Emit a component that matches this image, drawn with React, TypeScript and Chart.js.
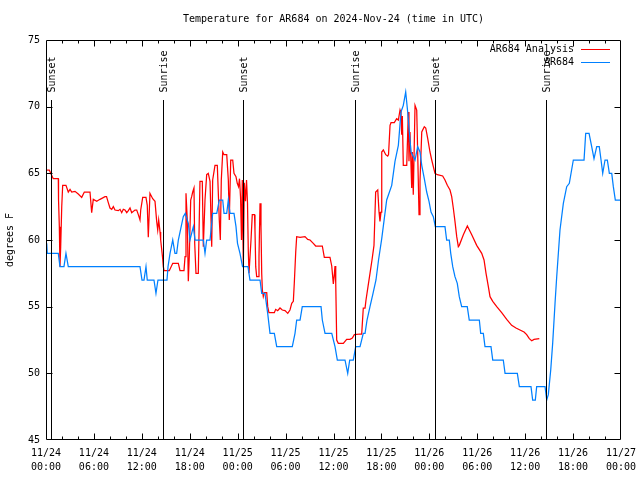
import React, { useEffect, useRef } from "react";
import { Chart, registerables } from "chart.js";

Chart.register(...registerables);

const MONO = "'DejaVu Sans Mono', 'Liberation Mono', monospace";

const TITLE = "Temperature for AR684 on 2024-Nov-24 (time in UTC)";
const Y_TITLE = "degrees F";
const X_TICK_DATES = ["11/24", "11/24", "11/24", "11/24", "11/25", "11/25", "11/25", "11/25", "11/26", "11/26", "11/26", "11/26", "11/27"];
const X_TICK_TIMES = ["00:00", "06:00", "12:00", "18:00", "00:00", "06:00", "12:00", "18:00", "00:00", "06:00", "12:00", "18:00", "00:00"];
const X_MIN = 0;
const X_MAX = 72;
const Y_MIN = 45;
const Y_MAX = 75;

const SERIES_LABELS = ["AR684 Analysis", "AR684"];
const SERIES_COLORS = ["#ff0000", "#0080ff"];

// hours since 11/24 00:00 UTC
const analysisHours = [0.09, 0.41, 0.59, 0.91, 1.54, 1.57, 1.67, 1.75, 1.84, 1.97, 2.09, 2.5, 2.79, 3.01, 3.22, 3.63, 4.04, 4.47, 4.8, 5.51, 5.72, 5.92, 6.35, 6.76, 7.39, 7.58, 7.8, 8.01, 8.23, 8.43, 8.64, 9.05, 9.27, 9.48, 9.68, 9.89, 10.11, 10.31, 10.52, 10.73, 11.14, 11.36, 11.56, 11.77, 11.86, 12.11, 12.52, 12.68, 12.81, 13.02, 13.36, 13.65, 13.86, 13.99, 14.11, 14.28, 14.36, 14.61, 14.69, 14.78, 15.44, 15.87, 16.57, 16.78, 17.28, 17.41, 17.53, 17.69, 17.82, 17.94, 18.12, 18.24, 18.37, 18.53, 18.62, 18.78, 19.07, 19.28, 19.57, 19.7, 19.91, 20.12, 20.32, 20.54, 20.75, 20.87, 21.16, 21.45, 21.7, 21.83, 21.95, 22.13, 22.29, 22.63, 22.83, 22.95, 23.13, 23.38, 23.54, 23.79, 23.95, 24.11, 24.23, 24.36, 24.48, 24.58, 24.71, 24.83, 24.98, 25.11, 25.23, 25.33, 25.42, 25.67, 25.83, 26.11, 26.17, 26.26, 26.38, 26.61, 26.67, 26.8, 26.92, 27.01, 27.09, 27.21, 27.34, 27.64, 27.76, 27.92, 28.59, 28.76, 29.01, 29.3, 29.59, 29.93, 30.27, 30.55, 30.77, 30.97, 31.09, 31.27, 31.39, 31.81, 32.43, 32.77, 33.06, 33.47, 33.77, 34.6, 34.85, 35.56, 35.78, 35.98, 36.1, 36.19, 36.28, 36.4, 36.6, 37.23, 37.65, 38.07, 38.36, 38.61, 39.32, 39.53, 39.73, 39.95, 40.07, 40.32, 40.57, 40.82, 41.07, 41.28, 41.54, 41.7, 41.82, 41.95, 42.04, 42.24, 42.54, 42.79, 42.89, 43.08, 43.2, 43.61, 43.91, 44.12, 44.33, 44.45, 44.54, 44.62, 44.74, 45.17, 45.37, 45.45, 45.58, 45.79, 45.87, 45.99, 46.21, 46.42, 46.54, 46.71, 46.83, 47.05, 47.37, 47.55, 47.8, 48.08, 48.3, 48.5, 48.71, 49.0, 49.67, 49.96, 50.25, 50.59, 50.8, 51.0, 51.21, 51.43, 51.63, 51.75, 52.26, 52.76, 53.31, 53.93, 54.56, 54.85, 55.1, 55.39, 55.6, 55.94, 56.44, 57.06, 57.69, 58.31, 58.85, 59.35, 59.86, 60.19, 60.52, 60.82, 61.11, 61.77];
const analysisTemps = [65.25, 65.25, 65.0, 64.6, 64.6, 63.0, 61.0, 58.0, 59.5, 62.5, 64.1, 64.1, 63.6, 63.8, 63.6, 63.65, 63.45, 63.2, 63.6, 63.6, 62.05, 63.05, 62.9, 63.05, 63.25, 63.25, 62.8, 62.4, 62.3, 62.5, 62.25, 62.2, 62.3, 62.05, 62.3, 62.25, 62.05, 62.2, 62.4, 62.05, 62.25, 62.25, 61.9, 61.5, 62.25, 63.2, 63.2, 62.6, 60.2, 63.5, 63.1, 62.9, 61.4, 60.75, 61.5, 60.6, 60.0, 58.6, 58.0, 57.7, 57.7, 58.25, 58.25, 57.7, 57.7, 58.75, 63.5, 61.5, 56.9, 58.75, 63.0, 63.25, 63.6, 63.9, 59.75, 57.5, 57.5, 64.4, 64.4, 59.5, 63.0, 64.9, 65.0, 64.4, 59.5, 64.5, 65.6, 65.6, 61.5, 60.0, 64.5, 66.6, 66.4, 66.4, 64.5, 61.5, 66.0, 66.0, 65.0, 64.75, 64.25, 64.0, 64.6, 63.2, 60.0, 64.5, 58.0, 64.3, 62.9, 64.5, 62.8, 59.2, 57.5, 60.0, 61.9, 61.9, 60.7, 58.0, 57.25, 57.25, 58.75, 62.75, 61.0, 57.5, 56.25, 55.75, 56.05, 56.05, 55.0, 54.55, 54.55, 54.8, 54.7, 54.9, 54.75, 54.7, 54.5, 54.75, 55.25, 55.4, 56.75, 59.1, 60.25, 60.2, 60.25, 60.05, 60.0, 59.75, 59.55, 59.55, 58.7, 58.7, 58.05, 56.7, 57.4, 58.05, 56.75, 52.5, 52.25, 52.25, 52.55, 52.55, 52.65, 52.9, 52.95, 52.95, 54.9, 54.9, 55.5, 56.5, 57.5, 58.5, 59.6, 63.6, 63.75, 62.1, 61.4, 62.1, 66.6, 66.75, 66.4, 66.3, 66.4, 68.6, 68.8, 68.8, 69.1, 69.0, 69.75, 69.5, 67.9, 69.3, 65.6, 65.6, 69.6, 65.9, 68.1, 63.9, 66.6, 63.4, 70.1, 69.75, 66.6, 61.9, 64.4, 68.1, 68.5, 68.4, 67.6, 66.6, 66.0, 65.5, 65.0, 64.9, 64.8, 64.5, 64.1, 63.75, 63.25, 62.4, 61.4, 60.25, 59.5, 59.6, 60.4, 61.05, 60.4, 59.6, 59.0, 58.5, 57.5, 56.5, 55.75, 55.4, 55.0, 54.55, 54.05, 53.6, 53.4, 53.25, 53.1, 52.9, 52.6, 52.45, 52.55, 52.6];

const obsHours = [0.09, 0.16, 1.54, 1.75, 2.25, 2.5, 2.79, 11.77, 12.02, 12.27, 12.52, 12.68, 13.52, 13.77, 14.02, 15.15, 15.28, 15.53, 15.87, 16.15, 16.36, 16.57, 17.19, 17.44, 17.82, 18.03, 18.45, 18.66, 19.7, 19.91, 20.12, 20.54, 20.87, 21.38, 21.7, 22.13, 22.29, 22.63, 22.83, 23.04, 23.54, 23.79, 23.98, 24.29, 24.61, 25.29, 25.54, 26.8, 27.01, 27.42, 27.76, 28.05, 28.59, 28.89, 30.84, 31.18, 31.39, 31.81, 32.09, 34.44, 34.6, 34.94, 35.78, 36.19, 36.48, 37.44, 37.78, 38.03, 38.48, 38.78, 39.32, 39.73, 39.95, 40.2, 40.57, 40.95, 41.32, 41.64, 42.04, 42.36, 42.66, 43.29, 43.7, 44.12, 44.45, 44.74, 45.04, 45.29, 45.45, 45.71, 46.0, 46.21, 46.54, 46.83, 47.05, 47.37, 47.67, 47.96, 48.21, 48.5, 48.75, 49.96, 50.17, 50.5, 50.68, 50.93, 51.21, 51.5, 51.75, 52.05, 52.75, 53.0, 54.26, 54.43, 54.76, 54.97, 55.72, 55.94, 57.26, 57.48, 59.02, 59.27, 60.73, 60.94, 61.27, 61.44, 62.49, 62.7, 62.9, 63.2, 63.45, 63.74, 63.95, 64.36, 64.78, 65.2, 65.53, 66.03, 67.37, 67.58, 68.0, 68.33, 68.62, 68.96, 69.28, 69.5, 69.71, 70.0, 70.29, 70.54, 70.84, 71.04, 71.29, 71.88];
const obsTemps = [59.75, 59, 59, 58, 58, 59, 58, 58, 57, 57, 58, 57, 57, 56, 57, 57, 58, 59, 60, 59, 59, 60, 61.75, 62, 61.25, 60, 61, 60, 60, 59, 60, 60, 62, 62, 63, 63, 62, 62, 63, 62, 62, 61, 59.75, 59, 58, 58, 57, 57, 56, 56, 54.5, 53, 53, 52, 52, 53, 54, 54, 55, 55, 54, 53, 53, 52, 51, 51, 50, 51, 51, 52, 52, 53, 53, 54, 55, 56, 57, 58.5, 60.1, 61.6, 63, 64.1, 65.9, 67.1, 69.6, 70.1, 71.1, 69.6, 68.4, 66.6, 66.25, 66, 67, 66.6, 65.6, 64.6, 63.6, 62.9, 62.1, 61.75, 61, 61, 60, 60, 59, 58, 57.25, 56.75, 55.75, 55, 55, 54, 54, 53, 53, 52, 52, 51, 51, 50, 50, 49, 49, 48, 48, 49, 49, 48, 48.4, 50.25, 52.3, 55.25, 57.25, 60.75, 62.75, 64, 64.25, 66, 66, 68, 68, 67, 66.1, 67, 67, 66, 65, 66, 66, 65, 65, 64, 63, 63];

const sunHours = [0.63, 14.69, 24.71, 38.73, 48.75, 62.65];
const sunLabels = ["Sunset", "Sunrise", "Sunset", "Sunrise", "Sunset", "Sunrise"];
const SUN_LINE_TOP = 70.5;

const X_MINOR_STEP = 2;
const X_MAJOR_STEP = 6;
const Y_STEP = 5;

function toPoints(xs: number[], ys: number[]) {
  return xs.map((x, i) => ({ x, y: ys[i] }));
}

const decorPlugin = {
  id: "gnuplotDecor",
  beforeDraw(chart: any) {
    const { ctx, width, height } = chart;
    ctx.save();
    ctx.fillStyle = "#ffffff";
    ctx.fillRect(0, 0, width, height);
    ctx.restore();
  },
  afterDatasetsDraw(chart: any) {
    const { ctx, chartArea: a, scales } = chart;
    const xs = scales.x;
    const ys = scales.y;
    ctx.save();
    ctx.strokeStyle = "#000000";
    ctx.lineWidth = 1;
    ctx.fillStyle = "#000000";
    ctx.font = `10px ${MONO}`;
    const yTop = Math.round(ys.getPixelForValue(SUN_LINE_TOP));
    sunHours.forEach((h, i) => {
      const px = Math.round(xs.getPixelForValue(h)) + 0.5;
      ctx.beginPath();
      ctx.moveTo(px, yTop);
      ctx.lineTo(px, a.bottom);
      ctx.stroke();
      ctx.save();
      ctx.translate(px + 0.5, yTop - 7.5);
      ctx.rotate(-Math.PI / 2);
      ctx.textAlign = "left";
      ctx.textBaseline = "middle";
      ctx.fillText(sunLabels[i], 0, 0);
      ctx.restore();
    });
    ctx.restore();
  },
  afterDraw(chart: any) {
    const { ctx, chartArea: a, scales } = chart;
    const xs = scales.x;
    const ys = scales.y;
    ctx.save();
    ctx.strokeStyle = "#000000";
    ctx.lineWidth = 1;
    const L = Math.round(a.left) + 0.5;
    const R = Math.round(a.right) - 0.5;
    const T = Math.round(a.top) + 0.5;
    const B = Math.round(a.bottom) - 0.5;
    ctx.beginPath();
    ctx.rect(L, T, R - L, B - T);
    // x ticks (major + minor), mirrored at top
    for (let h = X_MIN + X_MINOR_STEP; h < X_MAX; h += X_MINOR_STEP) {
      const px = Math.round(xs.getPixelForValue(h)) + 0.5;
      const len = h % X_MAJOR_STEP === 0 ? 6 : 3;
      ctx.moveTo(px, B);
      ctx.lineTo(px, B - len);
      ctx.moveTo(px, T);
      ctx.lineTo(px, T + len);
    }
    for (let v = Y_MIN + Y_STEP; v < Y_MAX; v += Y_STEP) {
      const py = Math.round(ys.getPixelForValue(v)) + 0.5;
      ctx.moveTo(L, py);
      ctx.lineTo(L + 6, py);
      ctx.moveTo(R, py);
      ctx.lineTo(R - 6, py);
    }
    ctx.stroke();

    // legend (top right, inside plot)
    ctx.font = `10px ${MONO}`;
    ctx.textAlign = "right";
    ctx.textBaseline = "middle";
    chart.data.datasets.forEach((ds: any, i: number) => {
      const ly = Math.round(a.top) + 9.5 + i * 13;
      ctx.fillStyle = "#000000";
      ctx.fillText(ds.label, a.right - 47, ly - 0.5);
      ctx.strokeStyle = ds.borderColor;
      ctx.beginPath();
      ctx.moveTo(a.right - 40, ly);
      ctx.lineTo(a.right - 11, ly);
      ctx.stroke();
    });
    ctx.restore();
  },
};

export default function App() {
  const canvasRef = useRef<HTMLCanvasElement | null>(null);

  useEffect(() => {
    document.body.style.margin = "0";
    const canvas = canvasRef.current;
    if (!canvas) return;
    const tickFont = { family: MONO, size: 10, weight: "normal" as const, lineHeight: 1.4 };
    const chart = new Chart(canvas, {
      type: "line",
      data: {
        datasets: [
          {
            label: SERIES_LABELS[0],
            data: toPoints(analysisHours, analysisTemps),
            borderColor: SERIES_COLORS[0],
            backgroundColor: SERIES_COLORS[0],
            borderWidth: 1.25,
            pointRadius: 0,
            tension: 0,
            fill: false,
            order: 1,
          },
          {
            label: SERIES_LABELS[1],
            data: toPoints(obsHours, obsTemps),
            borderColor: SERIES_COLORS[1],
            backgroundColor: SERIES_COLORS[1],
            borderWidth: 1.25,
            pointRadius: 0,
            tension: 0,
            fill: false,
            order: 0,
          },
        ],
      },
      options: {
        animation: false,
        responsive: false,
        devicePixelRatio: 1,
        layout: { padding: { top: 0, right: 19, bottom: 0, left: 0 } },
        plugins: {
          legend: { display: false },
          tooltip: { enabled: false },
          title: {
            display: true,
            text: TITLE,
            fullSize: false,
            color: "#000000",
            font: { family: MONO, size: 10, weight: "normal", lineHeight: 1.2 },
            padding: { top: 13, bottom: 15 },
          },
        },
        scales: {
          x: {
            type: "linear",
            min: X_MIN,
            max: X_MAX,
            border: { display: false },
            grid: { display: false, drawTicks: false },
            ticks: {
              stepSize: X_MAJOR_STEP,
              autoSkip: false,
              maxRotation: 0,
              minRotation: 0,
              padding: 6,
              color: "#000000",
              font: tickFont,
              callback: (v: any) => {
                const idx = Math.round((Number(v) - X_MIN) / X_MAJOR_STEP);
                return [X_TICK_DATES[idx], X_TICK_TIMES[idx]];
              },
            },
            afterFit: (s: any) => {
              s.height = 40;
              s.paddingLeft = 0;
              s.paddingRight = 0;
            },
          },
          y: {
            type: "linear",
            min: Y_MIN,
            max: Y_MAX,
            border: { display: false },
            grid: { display: false, drawTicks: false },
            ticks: {
              stepSize: Y_STEP,
              padding: 6,
              color: "#000000",
              font: { family: MONO, size: 10, weight: "normal" },
            },
            title: {
              display: true,
              text: Y_TITLE,
              color: "#000000",
              font: { family: MONO, size: 10, weight: "normal", lineHeight: 1.2 },
              padding: { top: 4, bottom: 0 },
            },
            afterFit: (s: any) => {
              s.width = 46;
              s.paddingTop = 0;
              s.paddingBottom = 0;
            },
          },
        },
      },
      plugins: [decorPlugin],
    });
    return () => chart.destroy();
  }, []);

  return (
    <div style={{ position: "fixed", left: 0, top: 0, width: 640, height: 480, background: "#ffffff" }}>
      <canvas ref={canvasRef} width={640} height={480} style={{ display: "block", width: 640, height: 480 }} />
    </div>
  );
}
